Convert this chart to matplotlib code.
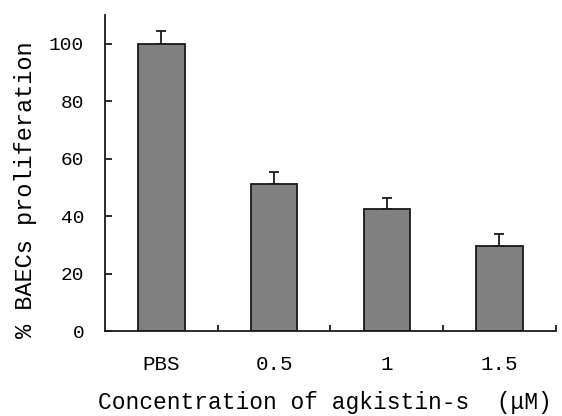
import matplotlib
matplotlib.use("Agg")
import matplotlib.pyplot as plt
import numpy as np

categories = ["PBS", "0.5", "1", "1.5"]
values = [100.0, 51.2, 42.4, 29.7]
errors = [4.3, 4.0, 3.8, 4.0]
yticks = [0, 20, 40, 60, 80, 100]

plt.rcParams['font.family'] = ['Liberation Mono', 'DejaVu Sans Mono']

fig = plt.figure(figsize=(5.62, 4.16), dpi=100)
ax = fig.add_axes([0.187, 0.204, 0.802, 0.76])

x = np.arange(len(categories))
ax.bar(x, values, width=0.41, color="#808080", edgecolor="#1a1a1a", linewidth=1.3, zorder=2)
ax.errorbar(x, values, yerr=[np.zeros(len(errors)), errors], fmt="none",
            ecolor="#1a1a1a", elinewidth=1.3, capsize=3.5, capthick=1.3, zorder=1)

ax.set_xlim(-0.5, len(categories) - 0.5)
ax.set_ylim(0, 110)
ax.set_yticks(yticks)
ax.set_yticklabels([str(t) for t in yticks], fontsize=14)
ax.set_xticks(x)
ax.set_xticklabels(categories, fontsize=15)
ax.set_xticks(np.arange(len(categories) + 1)[1:] - 0.5, minor=True)
ax.tick_params(axis="x", which="major", length=0, pad=17)
ax.tick_params(axis="x", which="minor", direction="in", length=4, width=1.3, color="#1a1a1a")
ax.tick_params(axis="y", direction="in", length=5, width=1.3, color="#1a1a1a", pad=15)

for s in ["top", "right"]:
    ax.spines[s].set_visible(False)
for s in ["left", "bottom"]:
    ax.spines[s].set_linewidth(1.3)
    ax.spines[s].set_color("#1a1a1a")

ax.set_xlabel("Concentration of agkistin-s  (\u03bcM)", fontsize=16.5)
ax.set_ylabel("% BAECs proliferation", fontsize=17)
ax.xaxis.set_label_coords(0.488, -0.19)
ax.yaxis.set_label_coords(-0.15, 0.446)

fig.savefig("out.png", dpi=100)
